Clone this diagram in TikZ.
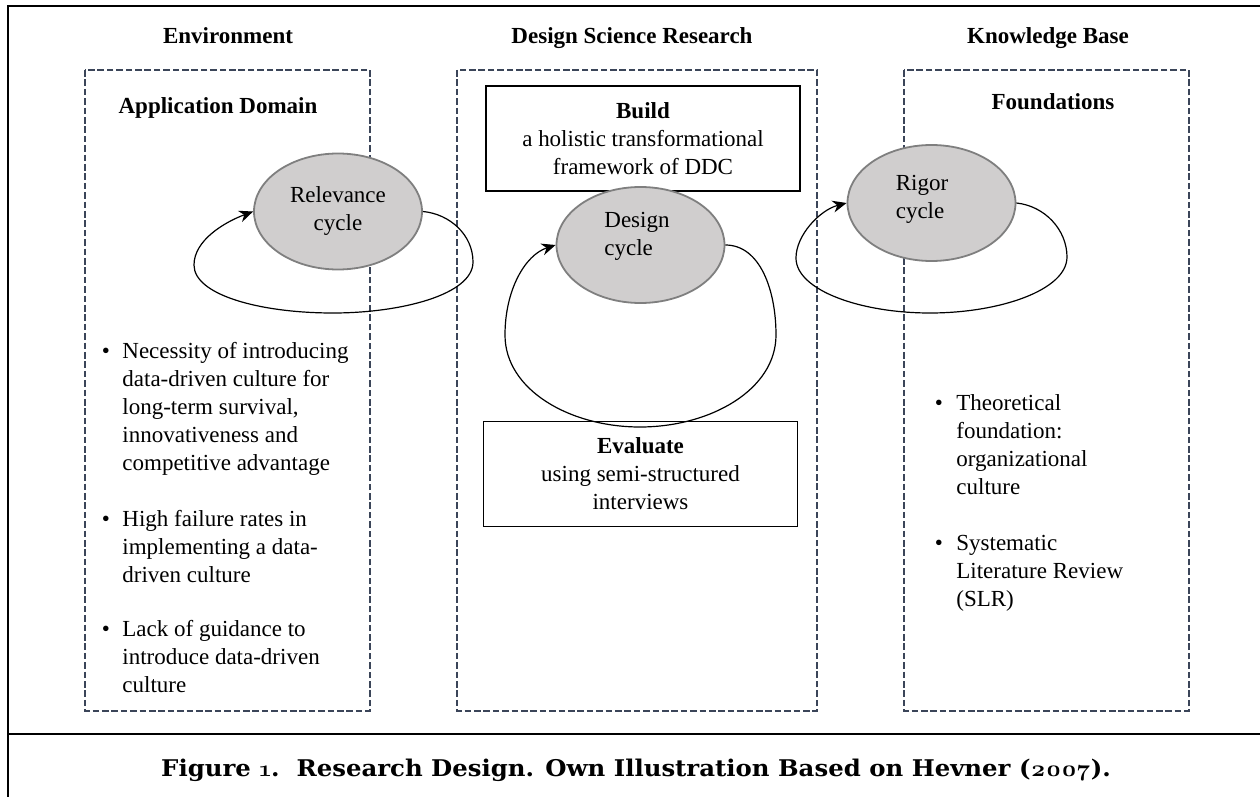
\documentclass[tikz,border=0pt]{standalone}
\usepackage{fontspec}
\setmainfont{Liberation Serif}
\newfontfamily\capfont{DejaVu Serif}
\newfontfamily\oldnum{Latin Modern Roman}[Numbers=OldStyle]
\usetikzlibrary{arrows.meta,shapes.geometric}

\definecolor{boxgray}{HTML}{3B4559}
\definecolor{cyclefill}{HTML}{D0CECE}
\definecolor{cyclegray}{HTML}{7F7F7F}

\tikzset{
  dashbox/.style={draw=boxgray, line width=1.2pt, dash pattern=on 3.3pt off 1.4pt},
  cyclenode/.style={ellipse, draw=cyclegray, fill=cyclefill, line width=0.9pt,
    minimum width=84pt, minimum height=58pt, inner sep=0pt},
  taskbox/.style={draw, line width=0.8pt, minimum width=157pt, minimum height=52.5pt,
    align=center, inner sep=0pt},
  heading/.style={font=\bfseries, anchor=base},
  bodytext/.style={align=left, anchor=base west, inner sep=0pt},
  cyclearrow/.style={line width=0.6pt, -{Stealth[length=7pt, width=6pt]}},
}

\begin{document}
\fontsize{11.5}{14}\selectfont
\begin{tikzpicture}[x=0.5pt, y=-0.5pt]
      \useasboundingbox (0,0) rectangle (1260,797);
      \draw[line width=1pt] (1260,6) -- (8,6) -- (8,797);
      \draw[line width=1pt] (8,734) -- (1260,734);

      \node[heading] (env) at (228,44) {Environment};
      \node[heading] (dsr) at (632,44) {Design Science Research};
      \node[heading] (kb) at (1048,44) {Knowledge Base};

      \draw[dashbox] (85,70) rectangle (370,711);
      \draw[dashbox] (457,70) rectangle (817,711);
      \draw[dashbox] (904,70) rectangle (1189,711);

      \node[heading] (appdom) at (218,114) {Application Domain};
      \node[heading] (found) at (1053,110) {Foundations};

      \node[taskbox] (build) at (643,138.5) {\textbf{Build}\\a holistic transformational\\framework of DDC};
      \node[taskbox] (eval) at (640.5,474) {\textbf{Evaluate}\\using semi-structured\\interviews};

      \node[cyclenode, align=center] (rel) at (338,211.5) {Relevance\\cycle};
      \node[cyclenode, label={[align=left, xshift=-1.75pt, yshift=4.25pt]center:Design\\cycle}] (des) at (640.5,245) {};
      \node[cyclenode, label={[align=left, xshift=-4.75pt, yshift=2pt]center:Rigor\\cycle}] (rig) at (931.5,203) {};

      \draw[cyclearrow] (rel.east) .. controls (450,214) and (473,235) .. (473,262)
        .. controls (473,295) and (400,313) .. (333,313)
        .. controls (260,313) and (194,295) .. (194,265)
        .. controls (194,240) and (225,222) .. (rel.west);
      \draw[cyclearrow] (des.east) .. controls (760,245) and (776,290) .. (776,335)
        .. controls (776,390) and (710,427) .. (640,427)
        .. controls (570,427) and (505,390) .. (505,335)
        .. controls (505,290) and (525,255) .. (des.west);
      \draw[cyclearrow] (rig.east) .. controls (1045,206) and (1067,230) .. (1067,257)
        .. controls (1067,290) and (1000,313) .. (930,313)
        .. controls (860,313) and (796,290) .. (796,258)
        .. controls (796,235) and (820,210) .. (rig.west);

      \foreach \bx/\by [count=\i] in {106/358,106/526,106/636,939/410,939/550}
        \node[anchor=base] (dot\i) at (\bx,\by) {\textbullet};
      \node[bodytext] (need1) at (122,470) {Necessity of introducing\\data-driven culture for\\long-term survival,\\innovativeness and\\competitive advantage};
      \node[bodytext] (need2) at (122,582) {High failure rates in\\implementing a data-\\driven culture};
      \node[bodytext] (need3) at (122,692) {Lack of guidance to\\introduce data-driven\\culture};
      \node[bodytext] (theo1) at (956,494) {Theoretical\\foundation:\\organizational\\culture};
      \node[bodytext] (theo2) at (956,606) {Systematic\\Literature Review\\(SLR)};

      \node[anchor=base] (cap) at (636,776) {\scalebox{1.06}[1]{\capfont\bfseries\fontsize{11.5}{13}\selectfont Figure {\oldnum 1}.\ \ Research Design. Own Illustration Based on Hevner ({\oldnum 2007}).}};
\end{tikzpicture}
\end{document}
